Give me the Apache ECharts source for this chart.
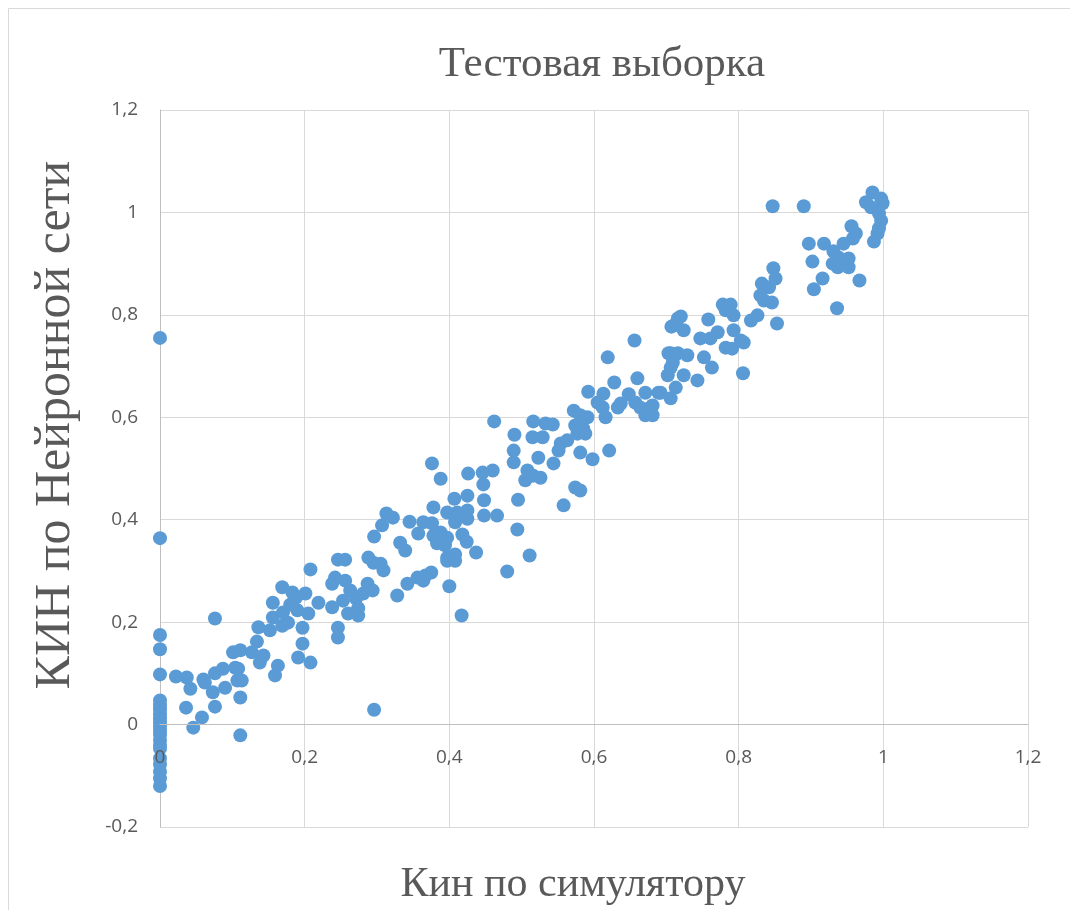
<!DOCTYPE html>
<html>
<head>
<meta charset="utf-8">
<script src="https://cdn.jsdelivr.net/npm/echarts@6/dist/echarts.min.js"></script>
<style>
html,body{margin:0;padding:0;background:#fff;}
#chart{width:1070px;height:910px;}
</style>
</head>
<body>
<div id="chart"></div>
<script>
// Chart texts
const chartTitle = 'Тестовая выборка';
const xTitle = 'Кин по симулятору';
const yTitle = 'КИН по Нейронной сети';

// Axis ranges and tick labels
const xMin = 0, xMax = 1.2, xStep = 0.2;
const yMin = -0.2, yMax = 1.2, yStep = 0.2;
const xTickLabels = ['0', '0,2', '0,4', '0,6', '0,8', '1', '1,2'];
const yTickLabels = ['-0,2', '0', '0,2', '0,4', '0,6', '0,8', '1', '1,2'];

// Series: КИН по симулятору (x) and КИН по Нейронной сети (y)
const kinSim = [
  0,0,0,0,0,0,0,0,0,0,0,0,0,0,0,0,0,0,0,0,0,0,
  0.022,0.037,0.042,0.036,0.046,0.058,0.062,0.073,0.076,0.076,0.087,0.101,0.111,0.104,0.090,0.107,
  0.111,0.113,0.111,0.134,0.138,0.143,0.159,0.163,0.136,0.152,0.156,0.169,0.060,0.127,0.108,0.076,
  0.156,0.169,0.183,0.170,0.177,0.190,0.197,0.201,0.197,0.208,0.219,0.205,0.191,0.208,0.238,0.246,
  0.256,0.242,0.256,0.253,0.260,0.246,0.246,0.238,0.180,0.188,0.274,0.274,0.281,0.287,0.294,0.288,
  0.295,0.305,0.309,0.296,0.328,0.342,0.356,0.364,0.375,0.400,0.417,0.263,0.271,
  0.462,0.376,0.388,0.426,0.446,0.460,0.447,0.407,0.425,0.448,0.378,0.397,0.411,0.425,0.408,0.425,
  0.448,0.466,0.313,0.322,0.307,0.296,0.345,0.364,0.376,0.357,0.378,0.388,0.397,0.383,0.394,0.332,
  0.339,0.397,0.408,0.418,0.424,0.437,0.367,0.397,0.408,
  0.716,0.707,0.656,0.619,0.703,0.709,0.702,0.628,0.660,0.592,0.613,0.648,0.671,0.692,0.706,0.605,
  0.612,0.616,0.633,0.637,0.657,0.664,0.671,0.678,0.572,0.581,0.591,0.574,0.577,0.585,0.588,0.554,
  0.551,0.563,0.581,0.598,0.621,0.490,0.516,0.533,0.543,0.515,0.529,0.489,0.489,0.523,0.544,0.508,
  0.516,0.526,0.505,0.574,0.581,0.495,0.558,0.494,0.511,0.480,
  0.897,0.918,0.902,0.930,0.937,0.945,0.916,0.904,0.936,0.848,0.851,0.832,0.842,0.830,0.835,0.846,
  0.853,0.778,0.789,0.793,0.782,0.817,0.826,0.758,0.720,0.710,0.724,0.747,0.761,0.771,0.793,0.803,
  0.807,0.782,0.791,0.752,0.763,0.806,0.706,0.716,0.729,0.706,0.724,0.743,0.713,0.689,0.681,0.681,
  0.890,0.847,0.985,0.976,0.983,0.997,0.999,0.994,0.997,0.994,0.992,0.987,0.956,0.962,0.958,0.945,
  0.931,0.938,0.952,0.952,0.967
];
const kinNN = [
  0.755,0.364,0.175,0.147,0.098,0.047,0.038,0.030,0.020,0.012,0.004,-0.004,-0.012,-0.020,-0.030,-0.040,-0.047,-0.066,-0.078,-0.092,-0.105,-0.120,
  0.094,0.092,0.070,0.033,-0.006,0.014,0.082,0.063,0.035,0.100,0.109,0.141,0.145,0.111,0.072,0.086,
  0.053,0.086,-0.021,0.162,0.121,0.135,0.096,0.115,0.190,0.184,0.209,0.193,0.088,0.141,0.109,0.207,
  0.238,0.268,0.258,0.219,0.199,0.223,0.189,0.256,0.158,0.303,0.238,0.217,0.131,0.121,0.275,0.322,
  0.322,0.287,0.281,0.242,0.217,0.189,0.170,0.229,0.234,0.248,0.227,0.213,0.256,0.275,0.262,0.326,
  0.316,0.314,0.301,0.029,0.252,0.275,0.287,0.281,0.297,0.270,0.213,0.262,0.246,
  0.592,0.510,0.480,0.490,0.492,0.496,0.469,0.441,0.447,0.438,0.424,0.414,0.414,0.418,0.395,0.402,
  0.408,0.408,0.412,0.404,0.389,0.367,0.396,0.395,0.393,0.373,0.369,0.375,0.365,0.354,0.350,0.355,
  0.340,0.326,0.332,0.371,0.357,0.336,0.291,0.320,0.320,
  0.793,0.777,0.750,0.717,0.725,0.707,0.682,0.668,0.676,0.650,0.646,0.645,0.648,0.648,0.637,0.629,
  0.619,0.600,0.619,0.627,0.629,0.619,0.604,0.619,0.613,0.604,0.600,0.584,0.568,0.578,0.568,0.549,
  0.535,0.555,0.531,0.518,0.535,0.566,0.592,0.588,0.586,0.561,0.561,0.535,0.512,0.521,0.510,0.496,
  0.486,0.482,0.477,0.463,0.457,0.439,0.428,0.381,0.330,0.299,
  0.939,0.939,0.904,0.900,0.893,0.906,0.871,0.850,0.813,0.891,0.871,0.861,0.854,0.838,0.828,0.824,
  0.783,0.820,0.820,0.799,0.809,0.789,0.799,0.791,0.797,0.779,0.770,0.754,0.754,0.766,0.770,0.750,
  0.746,0.736,0.734,0.717,0.697,0.686,0.725,0.725,0.721,0.697,0.682,0.672,0.658,0.648,0.623,0.604,
  1.012,1.012,1.039,1.020,1.010,1.027,1.018,0.998,0.984,0.969,0.959,0.943,0.973,0.959,0.949,0.939,
  0.924,0.912,0.910,0.893,0.867
];

const points = kinSim.map((x, i) => [x, kinNN[i]]);

function fmt(v) {
  return String(Math.round(v * 10) / 10).replace('.', ',');
}

const gridTop = 110, gridBottom = 83, chartH = 910;
// distance in px from the bottom of the plot (y = yMin) up to y = 0
const plotH = chartH - gridTop - gridBottom;
const zeroOffset = plotH * (0 - yMin) / (yMax - yMin);

const chart = echarts.init(document.getElementById('chart'), null, {renderer: 'canvas'});
const labelColor = '#595959';
const gridColor = '#d9d9d9';
const axisColor = '#bfbfbf';
const option = {
  backgroundColor: '#ffffff',
  animation: false,
  title: {
    text: chartTitle,
    left: 597,
    top: 38,
    textAlign: 'center',
    textStyle: {fontFamily: 'Liberation Serif', fontSize: 43, fontWeight: 'normal', color: labelColor}
  },
  graphic: [
    {
      type: 'rect', silent: true, z: -10,
      shape: {x: 8.5, y: 8.5, width: 1100, height: 1000},
      style: {fill: 'none', stroke: gridColor, lineWidth: 1}
    },
    {
      type: 'text', x: 573, y: 885,
      style: {text: xTitle, fontFamily: 'Liberation Serif', fontSize: 42, fill: labelColor,
        textAlign: 'center', textVerticalAlign: 'middle'}
    },
    {
      type: 'text', x: 56, y: 425, rotation: Math.PI / 2,
      style: {text: yTitle, fontFamily: 'Liberation Serif', fontSize: 50, fill: labelColor,
        textAlign: 'center', textVerticalAlign: 'middle'}
    }
  ],
  grid: {left: 160, right: 42, top: gridTop, bottom: gridBottom, containLabel: false},
  xAxis: [
    {
      // grid lines (behind the points)
      type: 'value', min: xMin, max: xMax, interval: xStep,
      position: 'bottom',
      z: 0,
      axisLine: {show: false, onZero: false},
      axisTick: {show: false},
      axisLabel: {show: false},
      splitLine: {show: true, lineStyle: {color: gridColor, width: 1}}
    },
    {
      // axis line at y = 0 and its labels (above the points)
      type: 'value', min: xMin, max: xMax, interval: xStep,
      position: 'bottom',
      offset: -zeroOffset,
      z: 10,
      axisLine: {show: true, onZero: false, lineStyle: {color: axisColor, width: 1}},
      axisTick: {show: false},
      axisLabel: {
        margin: 24, color: labelColor, fontFamily: 'Open Sans', fontSize: 19,
        showMinLabel: true, showMaxLabel: true, hideOverlap: false,
        formatter: v => xTickLabels[Math.round((v - xMin) / xStep)] ?? fmt(v)
      },
      splitLine: {show: false}
    }
  ],
  yAxis: {
    type: 'value', min: yMin, max: yMax, interval: yStep,
    axisLine: {show: true, onZero: false, lineStyle: {color: axisColor, width: 1}},
    axisTick: {show: false},
    axisLabel: {
      margin: 22, color: labelColor, fontFamily: 'Open Sans', fontSize: 19,
      showMinLabel: true, showMaxLabel: true, hideOverlap: false,
      formatter: v => yTickLabels[Math.round((v - yMin) / yStep)] ?? fmt(v)
    },
    splitLine: {show: true, lineStyle: {color: gridColor, width: 1}}
  },
  series: [{
    type: 'scatter',
    xAxisIndex: 0,
    data: points,
    symbol: 'circle',
    symbolSize: 14,
    z: 2,
    itemStyle: {color: '#5b9bd5', opacity: 1},
    emphasis: {disabled: true}
  }]
};
chart.setOption(option);
</script>
</body>
</html>
